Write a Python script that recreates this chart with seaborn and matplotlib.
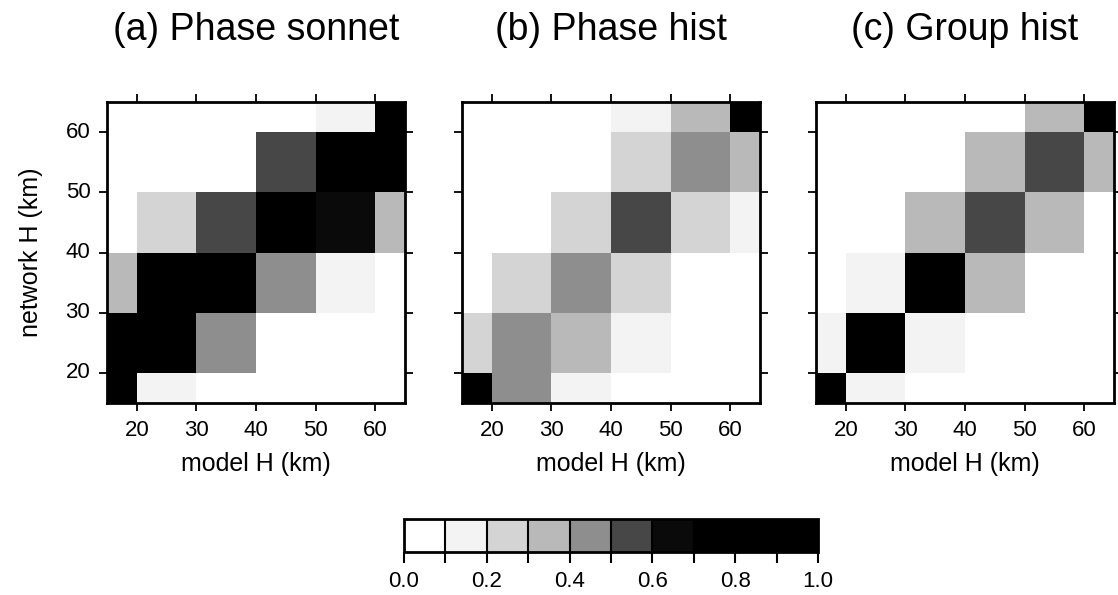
import numpy as np
import pandas as pd
import matplotlib
matplotlib.use("Agg")
import matplotlib.pyplot as plt
from matplotlib.colors import ListedColormap
import seaborn as sns

# ---------------- data ----------------
# bin edges (km) shared by both axes
bin_edges = [15, 20, 30, 40, 50, 60, 65]
tick_values = [20, 30, 40, 50, 60]
cbar_ticks = [0.0, 0.1, 0.2, 0.3, 0.4, 0.5, 0.6, 0.7, 0.8, 0.9, 1.0]
cbar_labels = ["0.0", "", "0.2", "", "0.4", "", "0.6", "", "0.8", "", "1.0"]
titles = ["(a) Phase sonnet", "(b) Phase hist", "(c) Group hist"]

# rows: network H bins from bottom (15-20) to top (60-65)
# cols: model H bins from left (15-20) to right (60-65)
phase_sonnet = [
    [0.85, 0.15, 0.05, 0.00, 0.00, 0.00],
    [0.80, 0.75, 0.45, 0.05, 0.00, 0.00],
    [0.35, 0.75, 0.75, 0.45, 0.15, 0.05],
    [0.05, 0.25, 0.55, 0.80, 0.65, 0.35],
    [0.00, 0.00, 0.05, 0.55, 0.75, 0.70],
    [0.00, 0.00, 0.00, 0.05, 0.15, 0.90],
]
phase_hist = [
    [0.90, 0.45, 0.15, 0.05, 0.00, 0.00],
    [0.25, 0.45, 0.30, 0.15, 0.05, 0.00],
    [0.05, 0.25, 0.45, 0.25, 0.05, 0.00],
    [0.00, 0.05, 0.25, 0.50, 0.25, 0.15],
    [0.00, 0.00, 0.05, 0.25, 0.45, 0.30],
    [0.00, 0.00, 0.00, 0.15, 0.30, 0.85],
]
group_hist = [
    [0.85, 0.15, 0.05, 0.00, 0.00, 0.00],
    [0.15, 0.85, 0.15, 0.05, 0.00, 0.00],
    [0.05, 0.15, 0.85, 0.30, 0.05, 0.00],
    [0.00, 0.05, 0.30, 0.58, 0.30, 0.05],
    [0.00, 0.00, 0.05, 0.30, 0.58, 0.30],
    [0.00, 0.00, 0.00, 0.05, 0.30, 0.85],
]
panels = [phase_sonnet, phase_hist, group_hist]

level_colors = ["#ffffff", "#f3f3f3", "#d4d4d4", "#b9b9b9", "#8e8e8e",
                "#474747", "#0a0a0a", "#000000", "#000000", "#000000"]

# ---------------- style ----------------
sns.set_theme(style="white")
plt.rcParams["font.family"] = ["Liberation Sans", "DejaVu Sans"]
plt.rcParams["text.color"] = "black"
plt.rcParams["axes.labelcolor"] = "black"
plt.rcParams["xtick.color"] = "black"
plt.rcParams["ytick.color"] = "black"

cmap = ListedColormap(level_colors)

W, H = 1118, 595
fig = plt.figure(figsize=(W / 100, H / 100), dpi=100)

# expand unequal bins onto a uniform 5-km grid so seaborn's heatmap can draw them
unit = 5
widths = np.diff(bin_edges) // unit
x0 = bin_edges[0]


def km_to_pos(v):
    return (v - x0) / unit


ax_lefts = [107, 462, 816]
ax_w, ax_top, ax_bot = 298, 102, 403

for i, (data, title) in enumerate(zip(panels, titles)):
    ax = fig.add_axes([ax_lefts[i] / W, 1 - ax_bot / H, ax_w / W, (ax_bot - ax_top) / H])
    arr = np.asarray(data)
    expanded = np.repeat(np.repeat(arr, widths, axis=0), widths, axis=1)
    df = pd.DataFrame(expanded)
    sns.heatmap(df, ax=ax, cmap=cmap, vmin=0, vmax=1, cbar=False,
                square=False, linewidths=0)
    ax.invert_yaxis()
    n = expanded.shape[0]
    ax.set_xlim(0, n)
    ax.set_ylim(0, n)
    for s in ax.spines.values():
        s.set_visible(True)
        s.set_linewidth(2.0)
        s.set_color("black")
    pos = [km_to_pos(t) for t in tick_values]
    ax.set_xticks(pos)
    ax.set_yticks(pos)
    ax.set_xticklabels([str(t) for t in tick_values], rotation=0)
    if i == 0:
        ax.set_yticklabels([str(t) for t in tick_values], rotation=0)
        ax.set_ylabel("network H (km)", fontsize=18, labelpad=16, color="black")
    else:
        ax.set_yticklabels([])
        ax.set_ylabel("")
    ax.tick_params(axis="both", which="both", direction="out", length=6, width=1.3,
                   color="black", top=True, right=True, bottom=True, left=True,
                   labelsize=16, labelcolor="black", pad=6)
    ax.set_xlabel("model H (km)", fontsize=18, labelpad=8, color="black")
    ax.set_title(title, fontsize=27, pad=45, color="black")

# colorbar
cax = fig.add_axes([404 / W, 1 - 552 / H, 414 / W, 33 / H])
mappable = fig.axes[0].collections[0]
cb = fig.colorbar(mappable, cax=cax, orientation="horizontal", drawedges=True,
                  ticks=cbar_ticks)
cb.outline.set_linewidth(2.0)
cb.outline.set_edgecolor("black")
cb.dividers.set_color("black")
cb.dividers.set_linewidth(1.5)
cb.ax.tick_params(direction="out", length=8, width=1.5, color="black",
                  labelsize=16, labelcolor="black", pad=6)
cb.ax.set_xticklabels(cbar_labels, fontsize=16, color="black")

fig.savefig("out.png", dpi=100)
